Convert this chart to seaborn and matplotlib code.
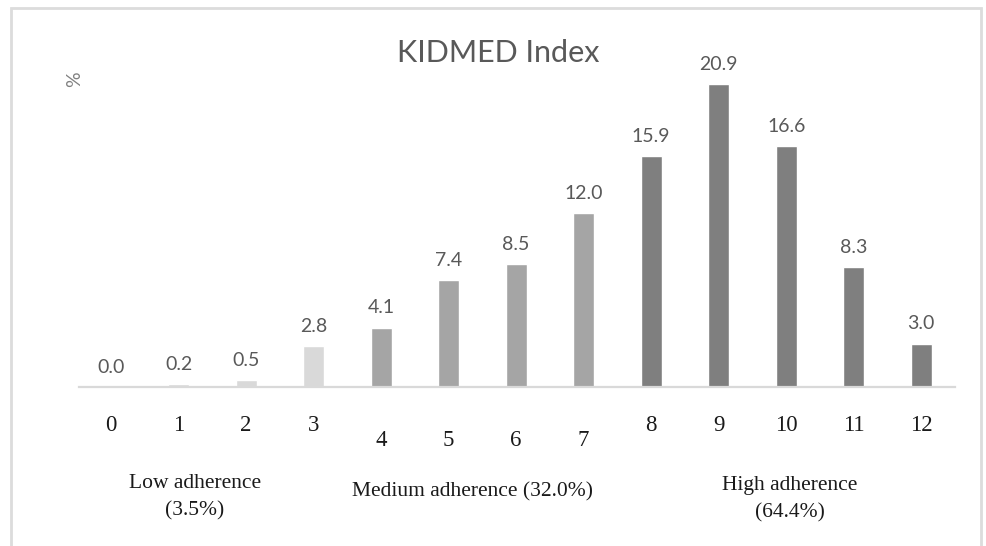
import matplotlib
matplotlib.use("Agg")
import matplotlib.pyplot as plt
import matplotlib.transforms as mtransforms
from matplotlib.patches import Rectangle
import seaborn as sns
import pandas as pd

# ---- data ----
scores = [str(i) for i in range(13)]
percent = [0.0, 0.2, 0.5, 2.8, 4.1, 7.4, 8.5, 12.0, 15.9, 20.9, 16.6, 8.3, 3.0]
group = ["Low"] * 4 + ["Medium"] * 4 + ["High"] * 5
group_labels = ["Low adherence\n(3.5%)", "Medium adherence (32.0%)", "High adherence\n(64.4%)"]
title = "KIDMED Index"
ylabel = "%"

palette = {"Low": "#d9d9d9", "Medium": "#a5a5a5", "High": "#7f7f7f"}

df = pd.DataFrame({"score": scores, "pct": percent, "group": group})

sns.set_theme(style="white")
plt.rcParams["font.family"] = ["Lato", "DejaVu Sans"]

W, H = 987, 546
fig = plt.figure(figsize=(W / 100, H / 100), dpi=100)

def px(x0, y0, x1, y1):
    return [x0 / W, 1 - y1 / H, (x1 - x0) / W, (y1 - y0) / H]

ax = fig.add_axes(px(79, 60, 955, 387))

sns.barplot(data=df, x="score", y="pct", hue="group", palette=palette,
            order=scores, hue_order=["Low", "Medium", "High"],
            dodge=False, width=0.31, legend=False, ax=ax, saturation=1)

ax.set_xlim(-0.474, 12.5)
ax.set_ylim(0, 327 / 14.5)

for c in ax.containers:
    ax.bar_label(c, fmt="%.1f", padding=8, fontsize=14, color="#595959",
                 family=["Lato", "DejaVu Sans"])

# axes styling
for s in ["top", "right", "left"]:
    ax.spines[s].set_visible(False)
ax.spines["bottom"].set_color("#d9d9d9")
ax.spines["bottom"].set_linewidth(1.6)
ax.set_yticks([])
ax.set_xlabel("")
ax.set_ylabel("")
ax.tick_params(axis="x", length=0, pad=20)
ax.set_xticks(range(13))
ax.set_xticklabels(scores, family=["Liberation Serif", "DejaVu Serif"],
                   fontsize=16.5, color="#1a1a1a")
shift = mtransforms.ScaledTranslation(0, -15 / 100, fig.dpi_scale_trans)
for i, lab in enumerate(ax.get_xticklabels()):
    if group[i] == "Medium":
        lab.set_transform(lab.get_transform() + shift)

# title and y label
fig.text(498 / W, 1 - 53 / H, title, ha="center", va="center",
         fontsize=22, color="#595959", family=["Lato", "DejaVu Sans"])
fig.text(75 / W, 1 - 79 / H, ylabel, ha="center", va="center", rotation=90,
         fontsize=14, color="#808080", family=["Lato", "DejaVu Sans"])

# group labels
serif = ["Liberation Serif", "DejaVu Serif"]
fig.text(195 / W, 1 - 497 / H, group_labels[0], ha="center", va="center",
         fontsize=15.5, color="#1a1a1a", family=serif, linespacing=1.55)
fig.text(473 / W, 1 - 492 / H, group_labels[1], ha="center", va="center",
         fontsize=15.5, color="#1a1a1a", family=serif)
fig.text(790 / W, 1 - 499 / H, group_labels[2], ha="center", va="center",
         fontsize=15.5, color="#1a1a1a", family=serif, linespacing=1.55)

# outer frame
fig.patches.append(Rectangle((11 / W, -0.05), (981 - 11) / W, 1.05 - 8 / H,
                             transform=fig.transFigure, fill=False,
                             edgecolor="#dcdcdc", linewidth=2))

fig.savefig("out.png", dpi=100)
